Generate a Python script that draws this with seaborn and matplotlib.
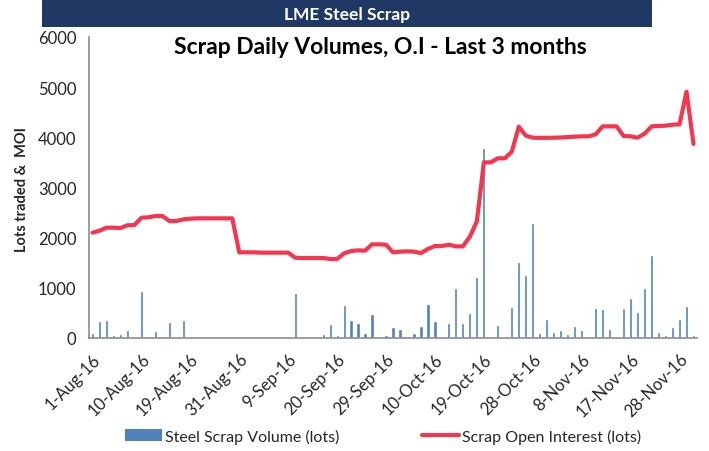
import numpy as np
import pandas as pd
import matplotlib
matplotlib.use("Agg")
import matplotlib.pyplot as plt
from matplotlib.patches import Rectangle, Patch
from matplotlib.lines import Line2D
import seaborn as sns

# ---- data ----
trade_dates = pd.bdate_range("2016-08-01", "2016-11-30", freq="C", holidays=["2016-08-29"])

volume = [106, 332, 359, 66, 86, 160, 0, 930, 20, 140,
          33, 312, 0, 352, 33, 13, 0, 0, 0, 10,
          0, 0, 0, 0, 10, 0, 10, 0, 0, 897,
          0, 0, 0, 86, 272, 60, 658, 359, 292, 106,
          472, 0, 60, 219, 179, 0, 100, 239, 671, 332,
          27, 299, 997, 305, 498, 1216, 3794, 10, 266, 27,
          625, 1508, 1249, 2286, 106, 385, 120, 159, 86, 246,
          166, 0, 591, 585, 179, 40, 605, 791, 518, 1003,
          1654, 126, 53, 213, 385, 638, 60]

open_interest = [2099, 2139, 2199, 2199, 2192, 2246, 2252, 2398, 2405, 2432,
                 2432, 2332, 2332, 2365, 2378, 2385, 2385, 2385, 2385, 2385,
                 2385, 1708, 1708, 1708, 1701, 1701, 1701, 1701, 1701, 1601,
                 1594, 1594, 1594, 1594, 1575, 1575, 1688, 1734, 1747, 1741,
                 1867, 1867, 1860, 1708, 1721, 1727, 1721, 1694, 1774, 1834,
                 1834, 1860, 1827, 1827, 2020, 2325, 3502, 3502, 3582, 3582,
                 3715, 4213, 4033, 3993, 3990, 3990, 3993, 3996, 4006, 4013,
                 4020, 4020, 4060, 4219, 4219, 4219, 4026, 4020, 3993, 4073,
                 4219, 4226, 4232, 4252, 4259, 4910, 3867]

tick_labels = ["1-Aug-16", "10-Aug-16", "19-Aug-16", "31-Aug-16", "9-Sep-16",
               "20-Sep-16", "29-Sep-16", "10-Oct-16", "19-Oct-16", "28-Oct-16",
               "8-Nov-16", "17-Nov-16", "28-Nov-16"]

header_text = "LME Steel Scrap"
title_text = "Scrap Daily Volumes, O.I - Last 3 months"
y_label = "Lots traded &  MOI"
bar_label = "Steel Scrap Volume (lots)"
line_label = "Scrap Open Interest (lots)"

# ---- style ----
sns.set_style("white")
plt.rcParams["font.family"] = ["Lato", "DejaVu Sans"]

bar_color = "#4F81BD"
line_color = "#F5364F"
axis_grey = "#8C8C8C"

df = pd.DataFrame({
    "date": trade_dates.strftime("%d-%b-%y"),
    "pos": np.arange(len(volume)),
    "volume": volume,
    "oi": open_interest,
})

fig = plt.figure(figsize=(7.09, 4.52), dpi=100)
ax = fig.add_axes([89 / 709, 1 - 339 / 452, (697 - 89) / 709, (339 - 38) / 452])

sns.barplot(data=df, x="pos", y="volume", native_scale=True, width=0.45,
            color=bar_color, saturation=1, ax=ax, zorder=2)
sns.lineplot(data=df, x="pos", y="oi", color=line_color, linewidth=3.0,
             ax=ax, zorder=3, solid_joinstyle="round", solid_capstyle="round")

ax.set_xlim(-0.5, len(volume) - 0.5)
ax.set_ylim(0, 6000)
ax.set_yticks(np.arange(0, 6001, 1000))
ax.set_yticklabels([str(v) for v in range(0, 6001, 1000)], fontsize=12)

label_pos = [df["date"].tolist().index(pd.Timestamp(l.replace("-16", "-2016")).strftime("%d-%b-%y"))
             for l in tick_labels]
ax.set_xticks(label_pos)
ax.set_xticklabels(tick_labels, rotation=45, ha="right", rotation_mode="anchor", fontsize=12)
ax.set_xticks(np.arange(-0.5, len(volume), 1.0), minor=True)
ax.tick_params(axis="x", which="major", length=0, pad=9)
ax.tick_params(axis="x", which="minor", length=5, color=axis_grey, width=1, direction="out")
ax.tick_params(axis="y", which="major", length=5, color=axis_grey, width=1, direction="out", pad=4)
ax.set_xlabel("")
ax.set_ylabel("")

for s in ["top", "right"]:
    ax.spines[s].set_visible(False)
for s in ["left", "bottom"]:
    ax.spines[s].set_color(axis_grey)
    ax.spines[s].set_linewidth(1.2)
ax.grid(False)

# header bar
fig.patches.append(Rectangle((42 / 709, 1 - 28 / 452), (652 - 42) / 709, 28 / 452,
                             transform=fig.transFigure, facecolor="#1F3864",
                             edgecolor="none", zorder=0))
fig.text(347 / 709, 1 - 15 / 452, header_text, color="white", fontsize=12.5,
         fontweight="bold", ha="center", va="center")

fig.text(380 / 709, 1 - 48 / 452, title_text, fontsize=16.5, fontweight="bold",
         ha="center", va="center", color="black")

fig.text(22 / 709, 1 - 190 / 452, y_label, rotation=90, fontsize=10.5,
         fontweight="bold", ha="center", va="center")

handles = [Patch(facecolor=bar_color, edgecolor="none"),
           Line2D([0], [0], color=line_color, linewidth=3)]
fig.legend(handles, [bar_label, line_label], loc="center", ncol=2,
           bbox_to_anchor=(383 / 709, 1 - 437 / 452), frameon=False,
           fontsize=11.5, handlelength=2.3, handleheight=0.8,
           columnspacing=5.2, handletextpad=0.2)

fig.savefig("out.png", dpi=100)
